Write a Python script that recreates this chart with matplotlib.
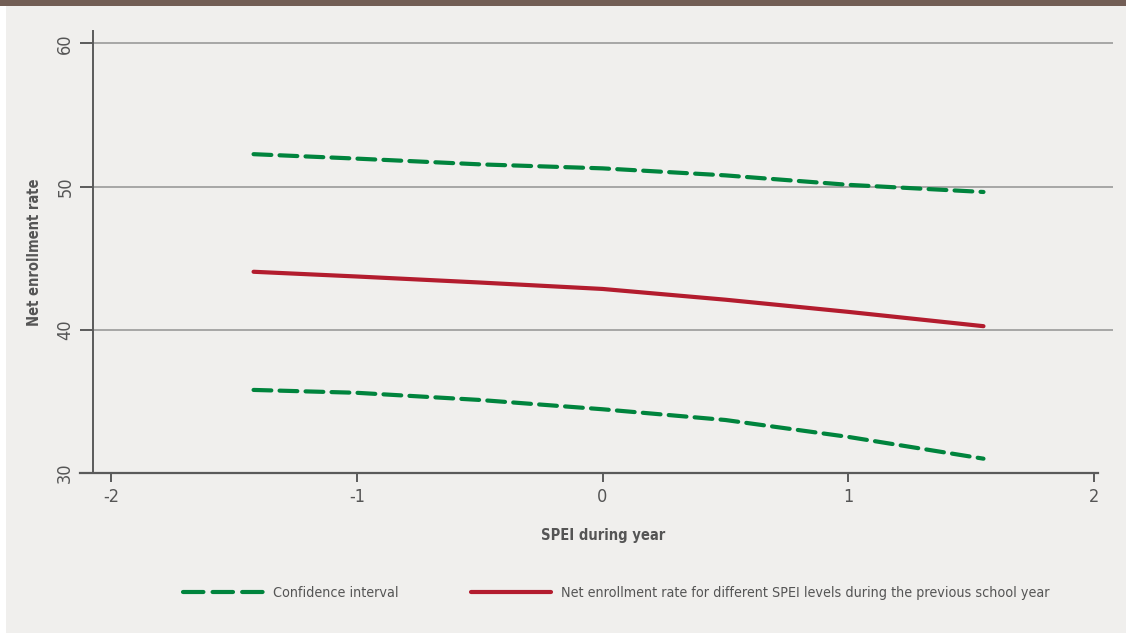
import matplotlib
matplotlib.use("Agg")
import matplotlib.pyplot as plt
from matplotlib.patches import Rectangle
from matplotlib.lines import Line2D

plt.rcParams['font.family'] = ['DejaVu Sans']
plt.rcParams['font.stretch'] = 'condensed'

# SPEI levels and predicted net enrollment with confidence bounds
spei = [-1.42, -1.0, -0.5, 0.0, 0.5, 1.0, 1.55]
enroll_rate = [44.05, 43.72, 43.30, 42.85, 42.10, 41.25, 40.25]
ci_upper = [52.26, 51.95, 51.55, 51.27, 50.78, 50.12, 49.62]
ci_lower = [35.80, 35.60, 35.10, 34.45, 33.70, 32.52, 31.00]

x_ticks = [-2, -1, 0, 1, 2]
y_ticks = [30, 40, 50, 60]

BG = '#f0efed'
GREEN = '#00843d'
RED = '#b31c2e'
AXIS = '#5a5a5a'
TEXT = '#555555'

fig = plt.figure(figsize=(11.26, 6.33), dpi=100, facecolor=BG)

# frame decorations: brown band along the top, white strip on the left
fig.patches.append(Rectangle((0, 1 - 6 / 633), 1, 6 / 633, transform=fig.transFigure,
                             facecolor='#725e55', edgecolor='none', zorder=0))
fig.patches.append(Rectangle((0, 0), 6 / 1126, 1 - 6 / 633, transform=fig.transFigure,
                             facecolor='white', edgecolor='none', zorder=0))

ax = fig.add_axes([93 / 1126, 1 - 473 / 633, (1113 - 93) / 1126, (473 - 31) / 633])
ax.set_facecolor(BG)
ax.set_xlim(-2.0733, 2.077)
ax.set_ylim(30, 60.86)

for s in ['top', 'right', 'bottom']:
    ax.spines[s].set_visible(False)
ax.spines['left'].set_color(AXIS)
ax.spines['left'].set_linewidth(1.4)

# horizontal grid
for yv in y_ticks[1:]:
    ax.axhline(yv, color='#9a9a9a', lw=1.2, zorder=1)

# bottom axis line extends a little beyond the left spine
ax.add_line(Line2D([-13 / 1020, (1098 - 93) / 1020], [0, 0], transform=ax.transAxes,
                   color=AXIS, lw=1.6, clip_on=False, zorder=3))

LW = 3.0
dash_kw = dict(color=GREEN, lw=LW, dashes=(4.27, 1.97), dash_capstyle='round', zorder=4)
l_ci, = ax.plot(spei, ci_upper, label='Confidence interval', **dash_kw)
ax.plot(spei, ci_lower, **dash_kw)
l_rate, = ax.plot(spei, enroll_rate, color=RED, lw=LW, solid_capstyle='round',
                  label='Net enrollment rate for different SPEI levels during the previous school year',
                  zorder=4)

ax.set_xticks(x_ticks)
ax.set_xticklabels([str(v) for v in x_ticks])
ax.set_yticks(y_ticks)
ax.set_yticklabels([str(v) for v in y_ticks], rotation=90, va='center')
ax.tick_params(axis='x', length=6.5, width=1.4, color=AXIS, labelcolor=TEXT,
               labelsize=13, pad=4)
ax.tick_params(axis='y', length=9.5, width=1.4, color=AXIS, labelcolor=TEXT,
               labelsize=13, pad=4)

ax.set_xlabel('SPEI during year', fontsize=10.5, fontweight='bold', color=TEXT, labelpad=16)
ax.set_ylabel('Net enrollment rate', fontsize=10.5, fontweight='bold', color=TEXT, labelpad=10)

fs_leg = 10.3
px = fs_leg * 100 / 72
leg = fig.legend(handles=[l_ci, l_rate], loc='center', bbox_to_anchor=(0.5475, 1 - 593 / 633),
                 ncol=2, frameon=False, fontsize=fs_leg, handlelength=80 / px,
                 handletextpad=10 / px, columnspacing=72 / px)
for t in leg.get_texts():
    t.set_color(TEXT)
# three evenly spaced dashes in the legend key
leg.get_lines()[0].set_dashes((4.9, 2.2))

fig.savefig('out.png', dpi=100, facecolor=BG)
